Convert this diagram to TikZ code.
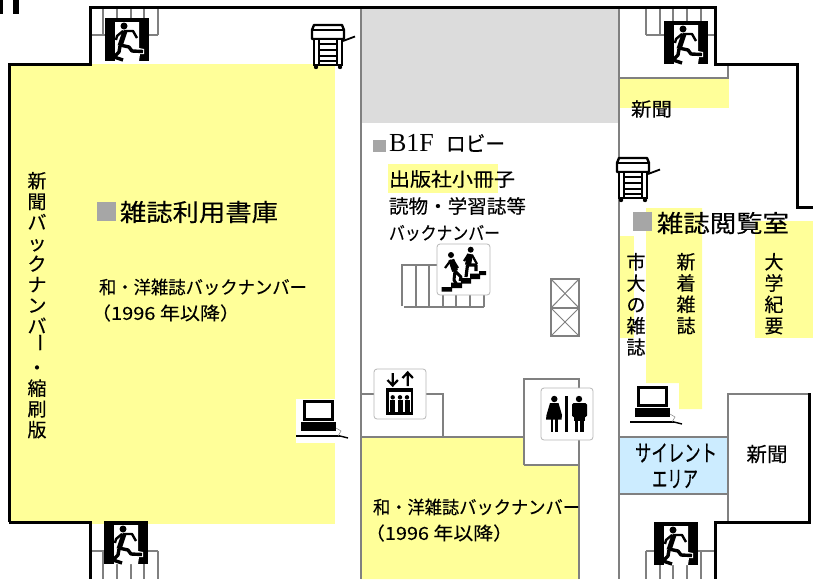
\documentclass[tikz,border=0pt]{standalone}
\usepackage{graphicx}
\usepackage{fontspec}
\setmainfont{Liberation Serif}
\newfontfamily\cjk[FakeBold=0.25]{Noto Sans CJK JP}
\newcommand{\fz}[1]{\fontsize{#1}{#1}\selectfont}
\newcommand{\fitw}[3]{\resizebox{#1pt}{\height}{\fz{#2}\cjk #3}}
\newcommand{\vbar}{\raisebox{.38em}[0pt][0pt]{\rotatebox[origin=c]{-90}{ー}}}
\definecolor{wallgray}{HTML}{808080}
\definecolor{bookyellow}{HTML}{FFFF99}
\definecolor{lobbygray}{HTML}{DCDCDC}
\definecolor{silentblue}{HTML}{CCECFF}
\definecolor{markgray}{HTML}{A6A6A6}
\tikzset{
  wall/.style={draw=black,line width=3pt,miter limit=10},
  partition/.style={draw=wallgray,line width=2pt},
  thinx/.style={draw=wallgray,line width=1pt},
  bookarea/.style={fill=bookyellow},
  label/.style={inner sep=0pt,outer sep=0pt,anchor=west,font=\cjk},
  vlabel/.style={inner sep=0pt,outer sep=0pt,anchor=north,align=center},
  signbox/.style={draw=black!28,fill=white,line width=.8pt,rounded corners=3pt},
  pics/exitsign/.style={code={
    \fill[black] (0,0) rectangle (44,43);
    \fill[white] (10,4) -- (34,4) -- (34,30) -- (39,31) -- (39,36) -- (35,36) -- (34,43) -- (10,43) -- cycle;
    \fill[black] (19,8) circle (3.5);
    \draw[line width=5pt,black] (20,13) -- (15,28);
    \draw[line width=2.4pt,black,line join=round] (19,13) -- (28,13) -- (32,20);
    \draw[line width=2.4pt,black,line join=round] (18,13) -- (12,18) -- (11,22);
    \draw[line width=3.4pt,black,line join=round] (15,27) -- (24,29) -- (27,33) -- (38,33.5);
    \draw[line width=3.4pt,black,line join=round] (15,28) -- (14,34) -- (9,39) -- (18,42);
  }},
  pics/copier/.style={code={
    \draw[line width=2.4pt,fill=white,line join=round] (1,6) -- (3,1) -- (31,1) -- (33,6) -- (33,15) -- (1,15) -- cycle;
    \draw[line width=1.6pt] (1,6) -- (33,6);
    \draw[line width=2.4pt,fill=white] (3,15) rectangle (31,41);
    \draw[line width=1.8pt] (8,15) -- (8,41) (26,15) -- (26,41);
    \foreach \yy in {20,26,32,37} \draw[line width=1.8pt] (8,\yy) -- (26,\yy);
    \fill (5,43) circle (2.2) (29,43) circle (2.2);
    \draw[line width=1.8pt] (32,17) -- (44,12.5);
  }},
  pics/pcset/.style={code={
    \draw[line width=3pt,fill=white] (1.5,1.5) rectangle (29.5,19);
    \fill (-2,22) rectangle (33,31);
    \draw[line width=1.6pt] (-7,36) -- (37,36);
    \draw[line width=.5pt,black!50] (33,28) -- (38,31) -- (35,36);
    \draw[line width=1.4pt] (37,36) -- (45,38);
  }},
  pics/stairsign/.style={code={
    \draw[signbox] (0,0) rectangle (53,51);
    \fill (4.5,47.5) -- (4.5,43) -- (14,43) -- (14,38.5) -- (24,38.5) -- (24,34) -- (33,34) -- (33,29.5) -- (42,29.5) -- (42,27) -- (49,27) -- (49,31) -- (43,31) -- (43,35) -- (34,35) -- (34,39.5) -- (25,39.5) -- (25,44) -- (15,44) -- (15,47.5) -- cycle;
    \fill (14,11) circle (3) (33.7,5.7) circle (3);
    \draw[line width=6pt] (14.3,15.7) -- (18,27);
    \draw[line width=2.2pt] (14,16) -- (8,24) (16,16) -- (21,24);
    \draw[line width=3pt,line join=round] (18,27) -- (17,36) -- (20,41) (18,27) -- (24,33) -- (23,37);
    \draw[line width=6pt] (33,10) -- (31,21);
    \draw[line width=2.2pt] (31,11) -- (27,17) (35,11) -- (40,20);
    \draw[line width=3.2pt,line join=round] (30.5,21) -- (29,33) (32,21) -- (39,21) -- (39,27);
  }},
  pics/liftsign/.style={code={
    \draw[signbox] (0,0) rectangle (52,50);
    \fill (12,19.3) rectangle (39.3,46);
    \fill[white] (14.7,22.7) rectangle (36.7,42.7);
    \foreach \xx in {18.7,26,33} {
      \fill (\xx,28.3) circle (2.2);
      \draw[line width=5pt] (\xx,31) -- (\xx,42.7);
    }
    \draw[line width=2.2pt] (18.7,4) -- (18.7,16) (13.5,11) -- (18.7,16.5) -- (23.9,11);
    \draw[line width=2.2pt] (33.7,17) -- (33.7,4) (28.5,9) -- (33.7,3.5) -- (38.9,9);
  }},
  pics/wcsign/.style={code={
    \draw[signbox] (0,0) rectangle (52,52);
    \fill (13.3,11) circle (3.2) (38,11) circle (3.2);
    \fill (9,15) -- (17.5,15) -- (21,27) -- (20.5,31.5) -- (5,31.5) -- (5.5,27) -- cycle;
    \draw[line width=2.4pt] (11,31) -- (11,44) (15.5,31) -- (15.5,44);
    \draw[line width=2.8pt] (25.7,8) -- (25.7,44);
    \fill[rounded corners=1.5pt] (31,15) rectangle (46,29);
    \fill (33,15) rectangle (43.5,33);
    \draw[line width=3.4pt] (35.5,31) -- (35.5,44) (41,31) -- (41,44);
  }},
}
\begin{document}
\begin{tikzpicture}[x=1pt,y=-1pt]
\useasboundingbox (0,0) rectangle (813,579);
\fill[white] (0,0) rectangle (813,579);
% areas
\fill[lobbygray] (361,7) rectangle (619,123);
\fill[bookyellow] (9,64) rectangle (335,523.5);
\fill[bookyellow] (620,79) rectangle (729,108);
\fill[bookyellow] (388,164) rectangle (498,193);
\fill[bookyellow] (620,236) rectangle (634,338);
\fill[bookyellow] (646,208) -- (702,208) -- (702,409) -- (679,409) -- (679,383) -- (646,383) -- cycle;
\fill[bookyellow] (755,221) rectangle (813,338);
\fill[bookyellow] (361,437) -- (523,437) -- (523,465) -- (579,465) -- (579,579) -- (361,579) -- cycle;
\fill[silentblue] (619,437) rectangle (728,494);
% partitions
\draw[partition] (361,7) -- (361,579);
\draw[partition] (619,7) -- (619,579);
\draw[partition] (619,78) -- (728,78) -- (728,64);
\draw[partition] (361,437) -- (524,437);
\draw[partition] (361,394) -- (443,394) -- (443,437);
\draw[partition] (524,465) -- (524,379) -- (579,379) -- (579,579);
\draw[partition] (524,465) -- (579,465);
\draw[partition] (619,437) -- (728,437);
\draw[partition] (619,494) -- (728,494);
\draw[partition] (728,522) -- (728,394) -- (809,394);
% stairs
\draw[partition] (91,35) -- (158,35) (103,8) -- (103,35) (117,8) -- (117,35) (131,8) -- (131,35) (144,8) -- (144,35) (158,8) -- (158,35);
\draw[partition] (714,35) -- (646,35) (646,8) -- (646,35) (660,8) -- (660,35) (673,8) -- (673,35) (687,8) -- (687,35) (701,8) -- (701,35);
\draw[partition] (91,551) -- (158,551) (103,551) -- (103,579) (117,551) -- (117,579) (131,551) -- (131,579) (144,551) -- (144,579) (158,551) -- (158,579);
\draw[partition] (714,551) -- (646,551) (646,551) -- (646,579) (660,551) -- (660,579) (673,551) -- (673,579) (687,551) -- (687,579) (701,551) -- (701,579);
\draw[partition] (402,306) -- (402,265) -- (443,265) (416,265) -- (416,307) (429,265) -- (429,307) (443,265) -- (443,307) (456,290) -- (456,307) (470,290) -- (470,307) (484,290) -- (484,307) (404,307) -- (484,307);
% lift shaft
\draw[partition] (551,279) rectangle (579,336);
\draw[partition] (551,308) -- (579,308);
\draw[thinx] (551,279) -- (579,308) (579,279) -- (551,308) (551,308) -- (579,336) (579,308) -- (551,336);
% outer walls
\draw[wall] (9,522) -- (9,64) -- (90,64) -- (90,7) -- (715,7) -- (715,64) -- (797,64) -- (797,207) -- (813,207);
\draw[wall] (9,522) -- (90,522) -- (90,579);
\draw[wall] (809,393) -- (809,522) -- (715,522) -- (715,579);
\fill (0,0) rectangle (3,14);
\fill (13,0) rectangle (19,14);
% icons
\pic (exitTL) at (105,18) {exitsign};
\pic (exitTR) at (664,21) {exitsign};
\pic (exitBL) at (104,521) {exitsign};
\pic (exitBR) at (654,522) {exitsign};
\pic (copierA) at (311,24) {copier};
\pic (copierB) at (616,157) {copier};
\fill[white] (296,399) rectangle (335,443);
\pic (pcA) at (303,400) {pcset};
\begin{scope}[shift={(637,386)},scale=.95]
\pic (pcB) at (0,0) {pcset};
\end{scope}
\pic (stairS) at (437,244) {stairsign};
\pic (liftS) at (374,369) {liftsign};
\pic (wcS) at (541,388) {wcsign};
% square marks
\fill[markgray] (97,202) rectangle (116,221);
\fill[markgray] (373,140) rectangle (386,152);
\fill[markgray] (633,212) rectangle (652,231);
% labels
\node[label] (t1) at (120,212) {\fitw{158}{24}{雑誌利用書庫}};
\node[label] (t2) at (99,287) {\fitw{208}{18}{和・洋雑誌バックナンバー}};
\node[label] (t3) at (91,313) {\fitw{149}{18}{（1996 年以降）}};
\node[label] (t4a) at (389,143) {\fz{26}\rmfamily B1F};
\node[label] (t4b) at (446,143) {\fitw{59}{21}{ロビー}};
\node[label] (t5) at (389,179) {\fitw{126}{19}{出版社小冊子}};
\node[label] (t6) at (389,206) {\fitw{137}{19}{読物・学習誌等}};
\node[label] (t7) at (389,233) {\fitw{111}{18}{バックナンバー}};
\node[label] (t8) at (657,223) {\fitw{132}{24}{雑誌閲覧室}};
\node[label] (t9) at (631,109) {\fitw{41}{19}{新聞}};
\node[label] (t10) at (373,507) {\fitw{207}{18}{和・洋雑誌バックナンバー}};
\node[label] (t11) at (365,533) {\fitw{148}{18}{（1996 年以降）}};
\node[label,anchor=center] (t12) at (676,453) {\fitw{82}{23}{サイレント}};
\node[label,anchor=center] (t13) at (675,479) {\fitw{46}{23}{エリア}};
\node[label,anchor=center] (t14) at (767,454) {\fitw{41}{20}{新聞}};
\node[vlabel,font=\cjk\fontsize{19}{20.75}\selectfont] (v1) at (37,172) {新\\聞\\バ\\ッ\\ク\\ナ\\ン\\バ\\\vbar\\・\\縮\\刷\\版};
\node[vlabel,font=\cjk\fontsize{19}{21.3}\selectfont] (v2) at (636,253) {市\\大\\の\\雑\\誌};
\node[vlabel,font=\cjk\fontsize{19}{21.3}\selectfont] (v3) at (686,253) {新\\着\\雑\\誌};
\node[vlabel,font=\cjk\fontsize{19}{21.3}\selectfont] (v4) at (774,253) {大\\学\\紀\\要};
\end{tikzpicture}
\end{document}
